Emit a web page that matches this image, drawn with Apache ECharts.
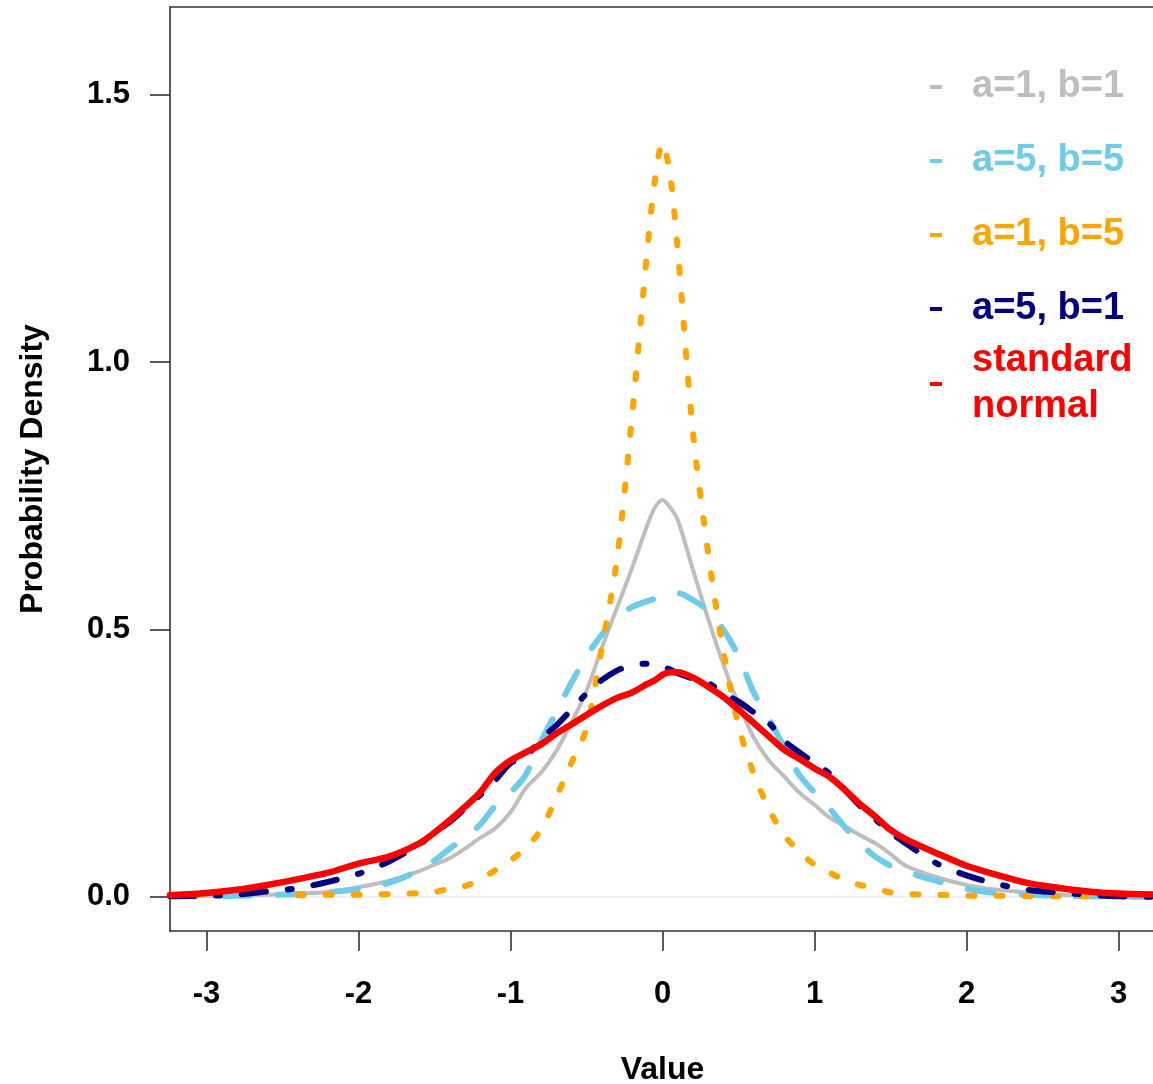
<!DOCTYPE html>
<html><head><meta charset="utf-8">
<script src="https://cdn.jsdelivr.net/npm/echarts@6/dist/echarts.min.js"></script>
<style>html,body{margin:0;padding:0;background:#fff;overflow:hidden}#c{width:1153px;height:1084px}</style>
</head><body><div id="c"></div>
<script>
// ---------- data ----------
const xValues = [-3.24,-3.0,-2.8,-2.6,-2.4,-2.2,-2.0,-1.8,-1.6,-1.5,-1.4,-1.3,-1.2,-1.1,-1.0,-0.9,-0.8,-0.7,-0.6,-0.5,-0.4,-0.3,-0.2,-0.1,-0.05,0.0,0.05,0.1,0.2,0.3,0.4,0.5,0.6,0.7,0.8,0.9,1.0,1.1,1.2,1.3,1.4,1.5,1.6,1.8,2.0,2.2,2.4,2.6,2.8,3.0,3.24];
const densA1B1 = [0.002,0.002,0.003,0.004,0.006,0.009,0.018,0.03,0.048,0.06,0.072,0.09,0.11,0.128,0.158,0.203,0.232,0.272,0.325,0.385,0.465,0.54,0.615,0.695,0.728,0.742,0.728,0.705,0.612,0.52,0.435,0.36,0.298,0.255,0.225,0.195,0.172,0.148,0.132,0.115,0.1,0.08,0.058,0.037,0.022,0.013,0.008,0.004,0.002,0.001,0.0005];
const densA5B5 = [0.001,0.001,0.002,0.003,0.005,0.009,0.014,0.026,0.05,0.068,0.09,0.11,0.135,0.17,0.195,0.228,0.29,0.345,0.4,0.45,0.49,0.522,0.542,0.553,0.557,0.56,0.565,0.568,0.555,0.535,0.5,0.45,0.382,0.333,0.28,0.228,0.195,0.165,0.13,0.1,0.075,0.058,0.047,0.03,0.015,0.007,0.004,0.002,0.001,0.0005,0];
const densA1B5 = [null,null,null,null,0.003,0.004,0.004,0.005,0.007,0.009,0.015,0.02,0.032,0.05,0.068,0.092,0.125,0.185,0.25,0.315,0.465,0.63,0.9,1.21,1.34,1.41,1.35,1.21,0.87,0.644,0.46,0.32,0.23,0.165,0.115,0.085,0.06,0.045,0.031,0.022,0.016,0.008,0.005,0.004,0.002,0.002,0.001,0.001,0.001,null,null];
const densA5B1 = [0.001,0.002,0.004,0.01,0.016,0.028,0.043,0.066,0.098,0.12,0.14,0.165,0.19,0.218,0.25,0.262,0.295,0.32,0.35,0.38,0.405,0.423,0.433,0.436,0.434,0.43,0.425,0.418,0.408,0.4,0.38,0.365,0.345,0.325,0.292,0.27,0.25,0.23,0.2,0.17,0.145,0.12,0.1,0.063,0.04,0.024,0.013,0.008,0.004,0.001,0];
const densNormal = [0.003,0.007,0.013,0.022,0.033,0.045,0.062,0.075,0.1,0.12,0.143,0.168,0.195,0.232,0.255,0.27,0.285,0.305,0.322,0.34,0.357,0.372,0.382,0.398,0.405,0.415,0.42,0.42,0.41,0.393,0.374,0.35,0.325,0.3,0.275,0.258,0.24,0.224,0.2,0.173,0.15,0.125,0.108,0.082,0.058,0.041,0.026,0.017,0.01,0.006,0.004];
const seriesNames = ['a=1, b=1','a=5, b=5','a=1, b=5','a=5, b=1','standard\nnormal'];
const xTickValues = [-3,-2,-1,0,1,2,3];
const yTickValues = [0,0.5,1,1.5];

// ---------- styles ----------
const FONT = "'Liberation Sans', Arial, Helvetica, sans-serif";
const colors = ['#bebebe','#6fcbea','#ffa500','#000080','#ff0000'];
const lineStyles = [
  {width:4, type:'solid'},
  {width:6, type:[26,28], cap:'round'},
  {width:6, type:[6,22], cap:'round'},
  {width:6, type:[24,22,4,22], cap:'round'},
  {width:6.5, type:'solid', cap:'round'}
];
const allY = [densA1B1, densA5B5, densA1B5, densA5B1, densNormal];

const series = allY.map((ys, k) => {
  const pts = [];
  xValues.forEach((x, i) => { if (ys[i] !== null) pts.push([x, ys[i]]); });
  const s = {
    name: seriesNames[k], type:'line', data: pts, symbol:'none', smooth:0.3,
    lineStyle: Object.assign({color: colors[k], join:'round'}, lineStyles[k]),
    itemStyle: {color: colors[k]}, z: 3 + k, silent: true
  };
  if (k === 0) {
    s.markLine = {silent:true, symbol:'none', label:{show:false},
      lineStyle:{color:'#ececec', type:'solid', width:1.5}, data:[{yAxis:0}], z:1};
  }
  return s;
});

const axisLineStyle = {color:'#333', width:1.6};
const legendText = {fontSize:38, fontWeight:'bold', fontFamily:FONT, lineHeight:44, padding:[0,0,0,25]};
const chart = echarts.init(document.getElementById('c'), null, {renderer:'canvas'});
chart.setOption({
  animation:false,
  backgroundColor:'#ffffff',
  grid:{left:170, top:7, right:-2, bottom:153, show:false, containLabel:false, outerBoundsMode:'none'},
  xAxis:[{
    type:'value', min:-3.24, max:3.24, position:'bottom',
    name:'Value', nameLocation:'middle', nameGap:123,
    nameTextStyle:{fontSize:32, fontWeight:'bold', fontFamily:FONT, color:'#000'},
    axisLine:{show:true, onZero:false, lineStyle:axisLineStyle},
    axisTick:{show:true, length:20, inside:false, customValues:xTickValues, lineStyle:axisLineStyle},
    axisLabel:{customValues:xTickValues, margin:48, fontSize:31, fontWeight:'bold', fontFamily:FONT, color:'#000', formatter:v=>String(v)},
    splitLine:{show:false}
  },{
    type:'value', min:-3.24, max:3.24, position:'top',
    axisLine:{show:true, onZero:false, lineStyle:axisLineStyle},
    axisTick:{show:false}, axisLabel:{show:false}, splitLine:{show:false}
  }],
  yAxis:{
    type:'value', min:-0.064, max:1.664, position:'left',
    name:'Probability Density', nameLocation:'middle', nameGap:121, nameRotate:90,
    nameTextStyle:{fontSize:32, fontWeight:'bold', fontFamily:FONT, color:'#000'},
    axisLine:{show:true, onZero:false, lineStyle:axisLineStyle},
    axisTick:{show:true, length:20, inside:false, customValues:yTickValues, lineStyle:axisLineStyle},
    axisLabel:{customValues:yTickValues, margin:40, fontSize:31, fontWeight:'bold', fontFamily:FONT, color:'#000', formatter:v=>v.toFixed(1)},
    splitLine:{show:false}
  },
  legend:[
    {orient:'vertical', left:930, top:65, padding:0, itemWidth:12, itemHeight:4, itemGap:30, icon:'rect',
     selectedMode:false, itemStyle:{borderWidth:0}, textStyle:legendText,
     data: seriesNames.slice(0,4).map((n,k)=>({name:n, textStyle:{color:colors[k]}}))},
    {orient:'vertical', left:930, top:338, padding:0, itemWidth:12, itemHeight:4, icon:'rect',
     selectedMode:false, itemStyle:{borderWidth:0}, textStyle:Object.assign({}, legendText, {lineHeight:46}),
     data:[{name:seriesNames[4], textStyle:{color:colors[4]}}]}
  ],
  series: series
});
</script>
</body></html>
